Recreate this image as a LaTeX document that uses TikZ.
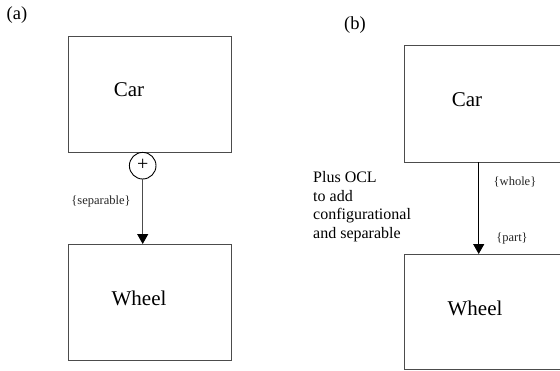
\documentclass[tikz,border=0pt]{standalone}
\usepackage{fontspec}
\setmainfont{Liberation Serif}
\usetikzlibrary{arrows.meta}
\definecolor{linegray}{gray}{0.3}
\tikzset{
  box/.style={draw=linegray, line width=1pt, rectangle, inner sep=0pt},
  label/.style={inner sep=0pt, font=\fontsize{21}{24}\selectfont},
  small/.style={inner sep=0pt, font=\fontsize{12.5}{14}\selectfont, text=black!85},
  tag/.style={inner sep=0pt, font=\fontsize{18.5}{21}\selectfont},
  link/.style={draw=linegray, line width=1.1pt,
    -{Triangle[width=11pt,length=10pt,fill=black,color=black]}},
}
\begin{document}
\begin{tikzpicture}[x=1pt, y=-1pt]
\useasboundingbox (0,0) rectangle (560,370);
\begin{scope}
\clip (0,0) rectangle (560,370);

% panel (a)
\node[tag] (la) at (17,15) {(a)};
\node[box, minimum width=163pt, minimum height=116pt] (carA) at (149.5,94) {};
\node[box, minimum width=163pt, minimum height=116pt] (wheelA) at (149.5,302) {};
\node[label] (carAtxt) at (129,90) {Car};
\node[label] (wheelAtxt) at (139,298) {Wheel};
\node[draw=black, line width=0.9pt, circle, minimum size=26.6pt, inner sep=0pt,
      fill=white, font=\fontsize{20}{20}\selectfont] (plus) at (142.7,165.7) {};
\node[inner sep=0pt, font=\fontsize{20}{20}\selectfont] (plussign) at (142.7,165.2) {+};
\coordinate (wheelAtop) at (142.7,244);
\draw[link] (plus.south) -- (wheelAtop);
\node[small] (sep) at (101,201) {\{separable\}};

% panel (b)
\node[tag] (lb) at (355,25) {(b)};
\node[box, minimum width=196pt, minimum height=117pt] (carB) at (502,103.5) {};
\node[box, minimum width=196pt, minimum height=115pt] (wheelB) at (502,311.5) {};
\node[label] (carBtxt) at (467,100) {Car};
\node[label] (wheelBtxt) at (475,308) {Wheel};
\coordinate (carBbot) at (478.7,162);
\coordinate (wheelBtop) at (478.7,254);
\draw[link, draw=black] (carBbot) -- (wheelBtop);
\node[small] (whole) at (515,182) {\{whole\}};
\node[small] (part) at (512,238) {\{part\}};
\node[inner sep=0pt, anchor=north west, align=left,
      font=\fontsize{16}{18.7}\selectfont] (ocl) at (313,171)
  {Plus OCL\\to add\\configurational\\and separable};
\end{scope}
\end{tikzpicture}
\end{document}
